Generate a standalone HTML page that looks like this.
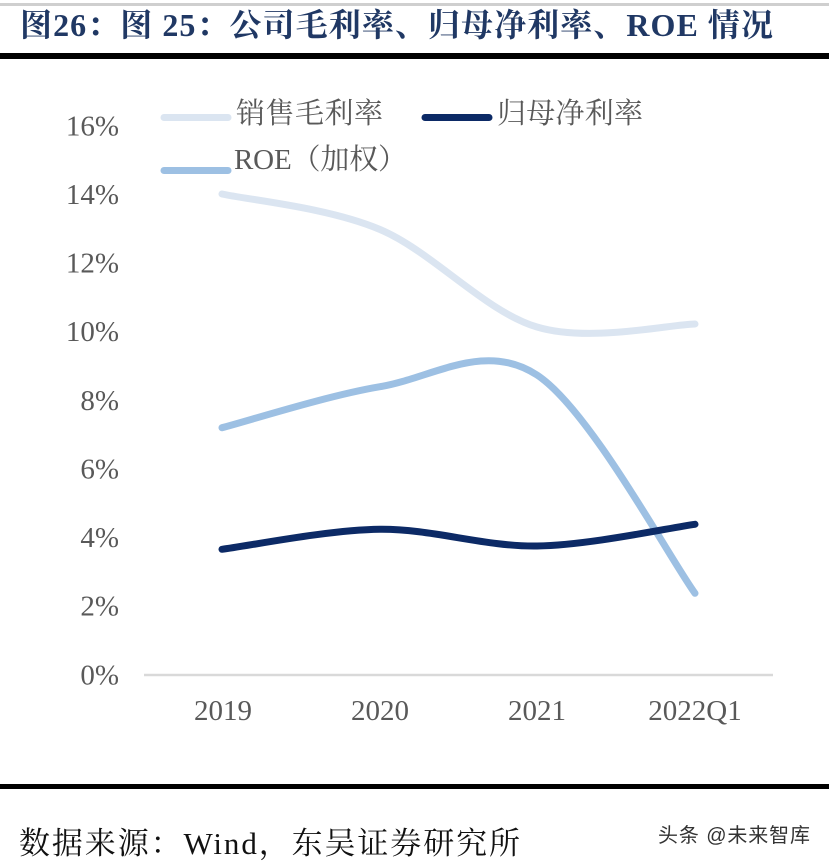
<!DOCTYPE html>
<html>
<head>
<meta charset="utf-8">
<style>
  html,body{margin:0;padding:0;background:#fff;}
  svg{display:block;}
</style>
</head>
<body>
<svg width="829" height="863" viewBox="0 0 829 863" xmlns="http://www.w3.org/2000/svg">
  <rect x="0" y="0" width="829" height="863" fill="#fff"/>
  <!-- top thin gray line -->
  <rect x="0" y="3" width="829" height="3" fill="#cfcfcf"/>
  <!-- title -->
  <text x="20" y="36" textLength="753" lengthAdjust="spacing" font-family="'Liberation Serif','Noto Serif CJK SC',serif" font-weight="bold" font-size="32" fill="#203864">图26：图 25：公司毛利率、归母净利率、ROE 情况</text>
  <!-- thick black rule -->
  <rect x="0" y="53" width="829" height="6" fill="#000"/>

  <!-- y tick labels -->
  <g font-family="'Liberation Serif',serif" font-size="29" fill="#595959" text-anchor="end">
    <text x="119" y="135.5">16%</text>
    <text x="119" y="204">14%</text>
    <text x="119" y="272.5">12%</text>
    <text x="119" y="341">10%</text>
    <text x="119" y="410">8%</text>
    <text x="119" y="478.5">6%</text>
    <text x="119" y="547">4%</text>
    <text x="119" y="615.5">2%</text>
    <text x="119" y="684.5">0%</text>
  </g>

  <!-- axis line -->
  <line x1="144" y1="675" x2="773" y2="675" stroke="#d9d9d9" stroke-width="2.5"/>

  <!-- x labels -->
  <g font-family="'Liberation Serif',serif" font-size="29" fill="#595959" text-anchor="middle">
    <text x="223" y="720">2019</text>
    <text x="380" y="720">2020</text>
    <text x="537" y="720">2021</text>
    <text x="695" y="720">2022Q1</text>
  </g>

  <!-- series -->
  <g fill="none" stroke-width="7" stroke-linecap="round" stroke-linejoin="round">
    <path d="M222,194 C248.3,199.9 327.5,207.3 380,229.5 C432.5,251.7 484.5,311.3 537,327 C589.5,342.8 668.7,324.5 695,324" stroke="#dbe5f1"/>
    <path d="M222,427.7 C248.3,420.9 327.5,395.5 380,386.7 C432.5,377.9 484.5,340.6 537,375 C589.5,409.4 668.7,556.9 695,593.3" stroke="#9dc0e3"/>
    <path d="M222,549.3 C248.3,546 327.5,529.9 380,529.3 C432.5,528.8 484.5,546.8 537,546 C589.5,545.2 668.7,527.9 695,524.3" stroke="#0c2a66"/>
  </g>

  <!-- legend -->
  <g stroke-width="7" stroke-linecap="round">
    <line x1="164" y1="117.5" x2="228" y2="117.5" stroke="#dbe5f1"/>
    <line x1="425" y1="117.5" x2="489" y2="117.5" stroke="#0c2a66"/>
    <line x1="164" y1="170.5" x2="228" y2="170.5" stroke="#9dc0e3"/>
  </g>
  <g font-family="'Liberation Serif','Noto Serif CJK SC',serif" font-size="29" fill="#595959">
    <text x="236" y="123" textLength="147" lengthAdjust="spacing">销售毛利率</text>
    <text x="497" y="123" textLength="146" lengthAdjust="spacing">归母净利率</text>
    <text x="234" y="169" textLength="173" lengthAdjust="spacing">ROE（加权）</text>
  </g>

  <!-- bottom black rule -->
  <rect x="0" y="784" width="829" height="5" fill="#000"/>

  <!-- footer -->
  <text x="19" y="854" textLength="501" lengthAdjust="spacing" font-family="'Liberation Serif','Noto Serif CJK SC',serif" font-size="31" fill="#111">数据来源：Wind，东吴证券研究所</text>
  <text x="658" y="842" textLength="152" lengthAdjust="spacing" font-family="'Liberation Sans','Noto Sans CJK SC',sans-serif" font-size="20" fill="#333">头条 @未来智库</text>
</svg>
</body>
</html>
